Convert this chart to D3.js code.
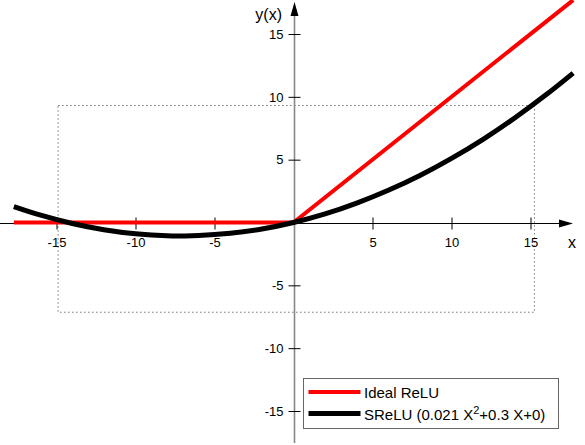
<!DOCTYPE html>
<html>
<head>
<meta charset="utf-8">
<script src="https://cdn.jsdelivr.net/npm/d3@7"></script>
<style>
  body { margin: 0; background: #fff; }
  text { font-family: "Liberation Sans", Arial, sans-serif; fill: #000; }
</style>
</head>
<body>
<div id="chart"></div>
<script>
// Chart size
const width = 585, height = 445;

// Data
const xTicks = [-15, -10, -5, 5, 10, 15];
const yTicks = [-15, -10, -5, 5, 10, 15];
const reluX = [-17.7, 0, 17.7];
const reluY = [0, 0, 17.7];
const sreluX = [-17.7, -16, -14, -12, -10, -8, -7, -6, -4, -2, 0, 2, 4, 6, 8, 10, 12, 14, 16, 17.7];
const sreluY = [1.27, 0.58, -0.08, -0.58, -0.9, -1.06, -1.07, -1.04, -0.86, -0.52, 0, 0.68, 1.54, 2.56, 3.74, 5.1, 6.62, 8.32, 10.18, 11.89];
const boxX = [-14.9, 15.25];
const boxY = [-7.14, 9.31];
const seriesNames = ["Ideal ReLU", "SReLU"];
const seriesColors = ["#ff0000", "#000000"];

const svg = d3.select("#chart")
  .append("svg")
  .attr("width", width)
  .attr("height", height);

// Scales
const x = d3.scaleLinear().domain([-15, 15]).range([56.5, 530.5]);
const y = d3.scaleLinear().domain([-15, 15]).range([411, 34]);

// Dotted box
svg.append("rect")
  .attr("x", x(boxX[0]))
  .attr("y", y(boxY[1]))
  .attr("width", x(boxX[1]) - x(boxX[0]))
  .attr("height", y(boxY[0]) - y(boxY[1]))
  .attr("fill", "none")
  .attr("stroke", "#777")
  .attr("stroke-width", 1)
  .attr("stroke-dasharray", "1.5,2.5");

// Axis lines
const x0 = Math.round(x(0)) + 0.5, y0 = Math.round(y(0)) + 0.5;

svg.append("line")
  .attr("x1", 0).attr("x2", 562)
  .attr("y1", y0).attr("y2", y0)
  .attr("stroke", "#000").attr("stroke-width", 1.2);

svg.append("line")
  .attr("x1", x0).attr("x2", x0)
  .attr("y1", 12).attr("y2", 443)
  .attr("stroke", "#888").attr("stroke-width", 1.6);

// Arrows
svg.append("path")
  .attr("d", `M${x0},2 L${x0 - 4},16 L${x0 + 4},16 Z`)
  .attr("fill", "#000");
svg.append("path")
  .attr("d", `M573,${y0} L559,${y0 - 4} L559,${y0 + 4} Z`)
  .attr("fill", "#000");

// X ticks (plain hyphen for negatives, like the original)
const xAxis = svg.append("g")
  .attr("transform", `translate(0,${y0})`)
  .call(d3.axisBottom(x).tickValues(xTicks).tickSize(6).tickPadding(8).tickFormat(d => String(d)));
xAxis.select(".domain").remove();
xAxis.selectAll(".tick line").attr("y1", -6).attr("stroke", "#000");
xAxis.selectAll("text").attr("font-size", 13).style("font-family", "Liberation Sans, Arial, sans-serif");

// Y ticks
const yAxis = svg.append("g")
  .attr("transform", `translate(${x0},0)`)
  .call(d3.axisLeft(y).tickValues(yTicks).tickSize(6).tickPadding(5).tickFormat(d => String(d)));
yAxis.select(".domain").remove();
yAxis.selectAll(".tick line").attr("x1", 6).attr("stroke", "#000");
yAxis.selectAll("text").attr("font-size", 13).style("font-family", "Liberation Sans, Arial, sans-serif");

// Axis titles
svg.append("text")
  .attr("x", 282).attr("y", 20)
  .attr("text-anchor", "end")
  .attr("font-size", 16)
  .text("y(x)");
svg.append("text")
  .attr("x", 572).attr("y", 248)
  .attr("text-anchor", "middle")
  .attr("font-size", 16)
  .text("x");

// Curves
const line = d3.line().x(d => x(d[0])).y(d => y(d[1]));
const curve = d3.line().x(d => x(d[0])).y(d => y(d[1])).curve(d3.curveNatural);

svg.append("path")
  .datum(d3.zip(reluX, reluY))
  .attr("d", line)
  .attr("fill", "none")
  .attr("stroke", seriesColors[0])
  .attr("stroke-width", 4);

svg.append("path")
  .datum(d3.zip(sreluX, sreluY))
  .attr("d", curve)
  .attr("fill", "none")
  .attr("stroke", seriesColors[1])
  .attr("stroke-width", 5);

// Legend
const legend = svg.append("g").attr("transform", "translate(303.5,378.5)");
legend.append("rect")
  .attr("width", 255).attr("height", 50)
  .attr("fill", "#fff")
  .attr("stroke", "#666").attr("stroke-width", 1);

[0, 1].forEach(i => {
  const ly = 13.5 + i * 21.5;
  legend.append("line")
    .attr("x1", 5).attr("x2", 57)
    .attr("y1", ly).attr("y2", ly)
    .attr("stroke", seriesColors[i])
    .attr("stroke-width", i === 0 ? 4 : 5);
});

legend.append("text")
  .attr("x", 60.5).attr("y", 19)
  .attr("font-size", 15)
  .text(seriesNames[0]);

const t2 = legend.append("text")
  .attr("x", 60.5).attr("y", 41)
  .attr("font-size", 15);
t2.append("tspan").text(seriesNames[1] + " (0.021 X");
t2.append("tspan").attr("dy", -6).attr("font-size", 11).text("2");
t2.append("tspan").attr("dy", 6).text("+0.3 X+0)");
</script>
</body>
</html>
